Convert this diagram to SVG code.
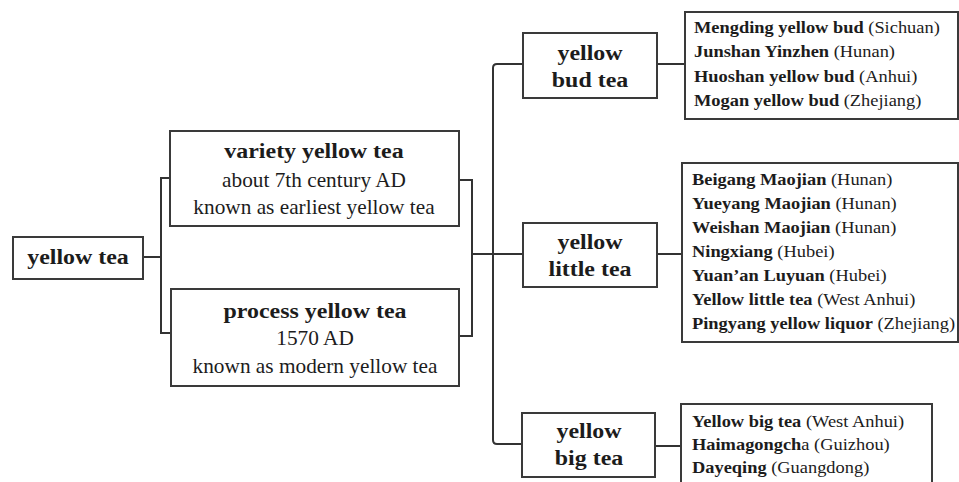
<svg xmlns="http://www.w3.org/2000/svg" width="959" height="482" viewBox="0 0 959 482">
<style>
.box{fill:#fff;stroke:#3a3a3a;stroke-width:2}
.con{fill:none;stroke:#333;stroke-width:2}
text{font-family:"Liberation Serif","Times New Roman",serif;fill:#1c1c1c}
.h{font-size:21px;font-weight:bold}
.m{font-size:20px}
.l{font-size:16px}
.bd{font-weight:bold}
</style>
<rect width="959" height="482" fill="#fff"/>
<g id="connectors">
<path class="con" d="M143,257 H161"/>
<path class="con" d="M170,178 H161 V333 H171"/>
<path class="con" d="M459,180 H472 V336 H459"/>
<path class="con" d="M472,254 H523"/>
<path class="con" d="M523,64 H497 Q493,64 493,68 V440 Q493,444 497,444 H522"/>
<path class="con" d="M657,64 H685"/>
<path class="con" d="M657,254 H682"/>
<path class="con" d="M655,446 H681"/>
</g>
<g id="yellow-tea">
<rect class="box" x="13" y="237" width="130" height="42"/>
<text class="h" text-anchor="middle" transform="translate(78,264) scale(1.14,1)">yellow tea</text>
</g>
<g id="variety-yellow-tea">
<rect class="box" x="170" y="131" width="289" height="95"/>
<text class="h" text-anchor="middle" transform="translate(314,158) scale(1.14,1)">variety yellow tea</text>
<text class="m" text-anchor="middle" transform="translate(314,187) scale(1.065,1)">about 7th century AD</text>
<text class="m" text-anchor="middle" transform="translate(314,214) scale(1.065,1)">known as earliest yellow tea</text>
</g>
<g id="process-yellow-tea">
<rect class="box" x="171" y="289" width="288" height="97"/>
<text class="h" text-anchor="middle" transform="translate(315,318) scale(1.14,1)">process yellow tea</text>
<text class="m" text-anchor="middle" transform="translate(315,345) scale(1.065,1)">1570 AD</text>
<text class="m" text-anchor="middle" transform="translate(315,373) scale(1.065,1)">known as modern yellow tea</text>
</g>
<g id="yellow-bud-tea">
<rect class="box" x="523" y="33" width="134" height="65"/>
<text class="h" text-anchor="middle" transform="translate(590,60) scale(1.14,1)">yellow</text>
<text class="h" text-anchor="middle" transform="translate(590,87) scale(1.14,1)">bud tea</text>
</g>
<g id="yellow-little-tea">
<rect class="box" x="523" y="223" width="134" height="64"/>
<text class="h" text-anchor="middle" transform="translate(590,249) scale(1.14,1)">yellow</text>
<text class="h" text-anchor="middle" transform="translate(590,276) scale(1.14,1)">little tea</text>
</g>
<g id="yellow-big-tea">
<rect class="box" x="522" y="413" width="133" height="64"/>
<text class="h" text-anchor="middle" transform="translate(589,438) scale(1.14,1)">yellow</text>
<text class="h" text-anchor="middle" transform="translate(589,465) scale(1.14,1)">big tea</text>
</g>
<g id="bud-list">
<rect class="box" x="685" y="12" width="273" height="107"/>
<text class="l" transform="translate(694,33) scale(1.15,1)"><tspan class="bd">Mengding yellow bud</tspan> (Sichuan)</text>
<text class="l" transform="translate(694,57) scale(1.15,1)"><tspan class="bd">Junshan Yinzhen</tspan> (Hunan)</text>
<text class="l" transform="translate(694,82) scale(1.15,1)"><tspan class="bd">Huoshan yellow bud</tspan> (Anhui)</text>
<text class="l" transform="translate(694,106) scale(1.15,1)"><tspan class="bd">Mogan yellow bud</tspan> (Zhejiang)</text>
</g>
<g id="little-list">
<rect class="box" x="682" y="163" width="276" height="179"/>
<text class="l" transform="translate(692,185) scale(1.15,1)"><tspan class="bd">Beigang Maojian</tspan> (Hunan)</text>
<text class="l" transform="translate(692,209) scale(1.15,1)"><tspan class="bd">Yueyang Maojian</tspan> (Hunan)</text>
<text class="l" transform="translate(692,233) scale(1.15,1)"><tspan class="bd">Weishan Maojian</tspan> (Hunan)</text>
<text class="l" transform="translate(692,257) scale(1.15,1)"><tspan class="bd">Ningxiang</tspan> (Hubei)</text>
<text class="l" transform="translate(692,281) scale(1.15,1)"><tspan class="bd">Yuan’an Luyuan</tspan> (Hubei)</text>
<text class="l" transform="translate(692,305) scale(1.15,1)"><tspan class="bd">Yellow little tea</tspan> (West Anhui)</text>
<text class="l" transform="translate(692,329) scale(1.15,1)"><tspan class="bd">Pingyang yellow liquor</tspan> (Zhejiang)</text>
</g>
<g id="big-list">
<rect class="box" x="681" y="404" width="251" height="90"/>
<text class="l" transform="translate(692,427) scale(1.15,1)"><tspan class="bd">Yellow big tea</tspan> (West Anhui)</text>
<text class="l" transform="translate(692,450) scale(1.15,1)"><tspan class="bd">Haimagongch</tspan>a (Guizhou)</text>
<text class="l" transform="translate(692,473) scale(1.15,1)"><tspan class="bd">Dayeqing</tspan> (Guangdong)</text>
</g>
</svg>
